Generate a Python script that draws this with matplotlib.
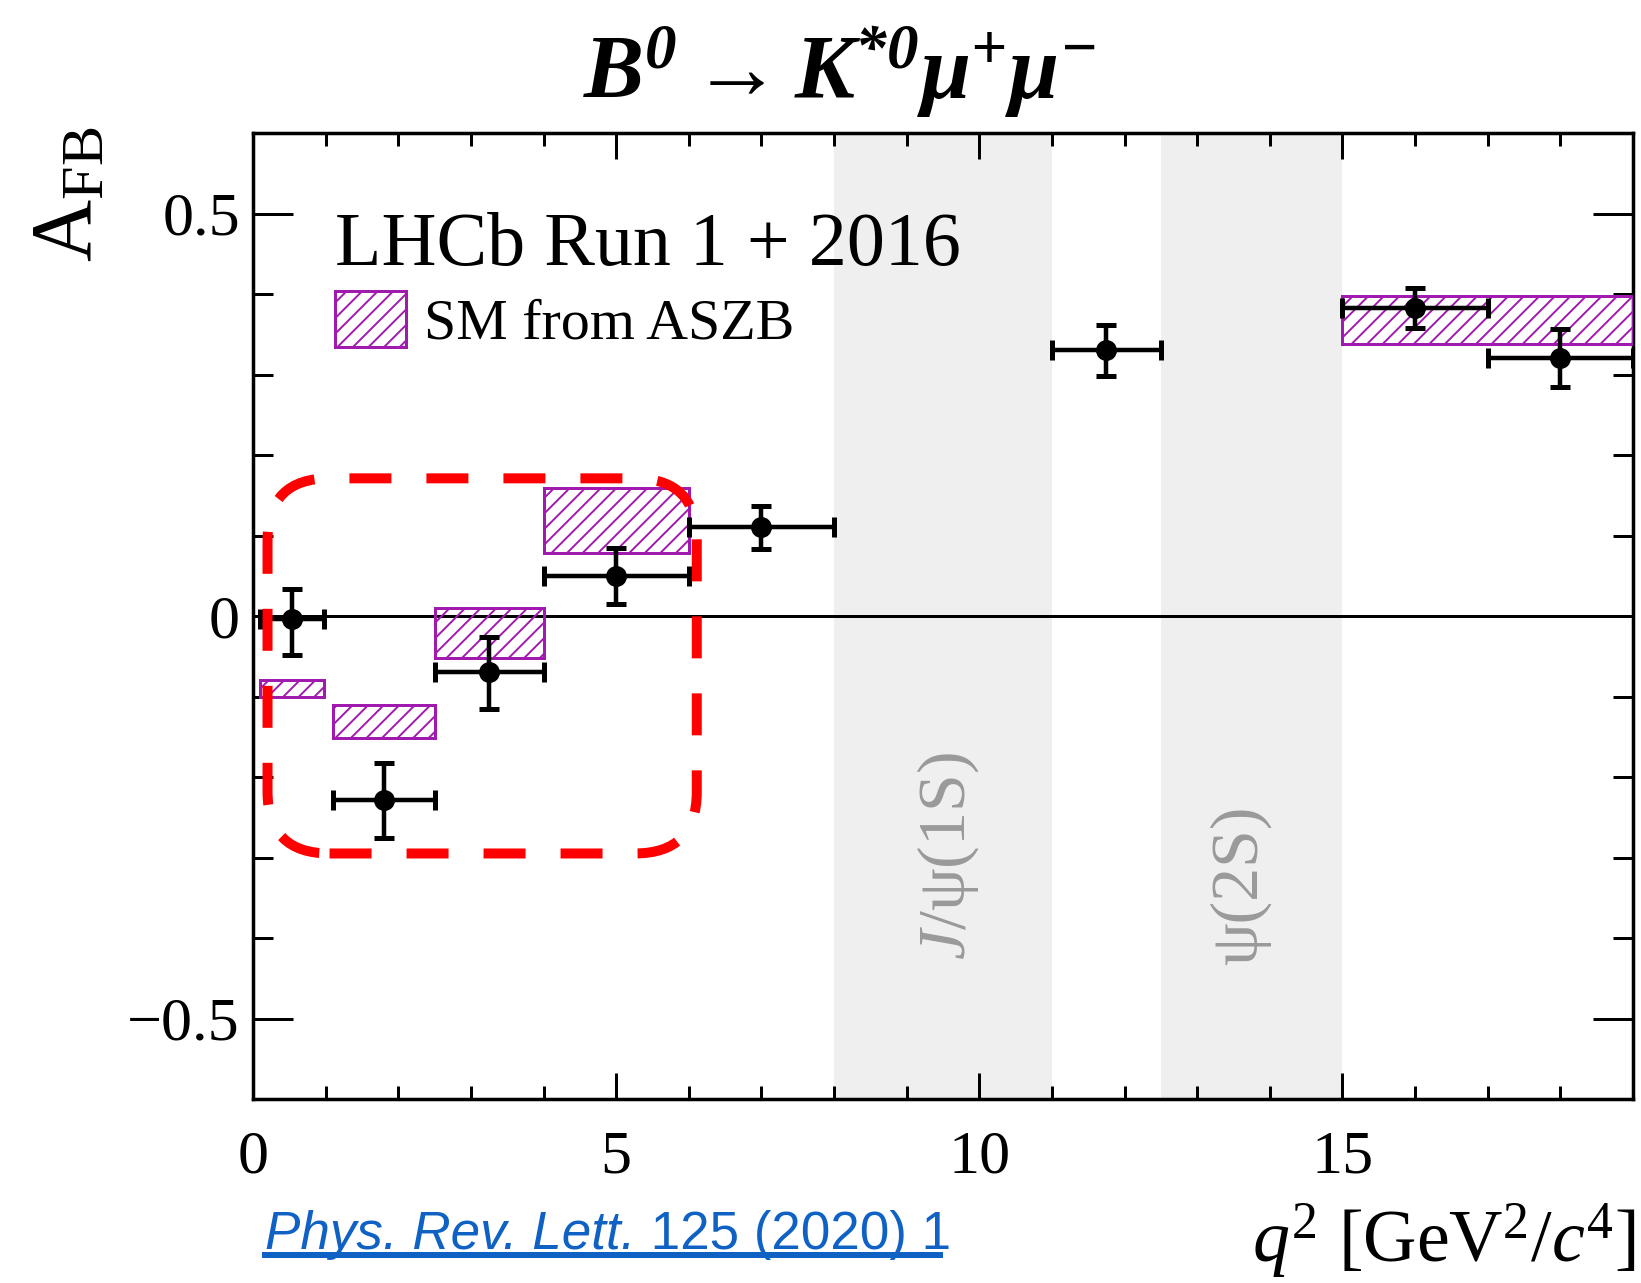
import matplotlib
matplotlib.use("Agg")
import numpy as np
from matplotlib import pyplot as plt
from matplotlib.patches import Patch, FancyBboxPatch
from matplotlib.lines import Line2D
from matplotlib.ticker import MultipleLocator

## Data
q2_lo = [0.10, 1.10, 2.50, 4.00, 6.00, 11.00, 15.00, 17.00]
q2_hi = [0.98, 2.50, 4.00, 6.00, 8.00, 12.50, 17.00, 19.00]
afb = [-0.004, -0.229, -0.070, 0.050, 0.110, 0.330, 0.383, 0.321]
afb_up = [0.038, 0.046, 0.044, 0.034, 0.027, 0.031, 0.025, 0.035]
afb_dn = [0.045, 0.047, 0.045, 0.035, 0.027, 0.032, 0.025, 0.037]

# SM prediction (ASZB) boxes
sm_lo = [0.10, 1.10, 2.50, 4.00, 15.00]
sm_hi = [0.98, 2.50, 4.00, 6.00, 19.00]
sm_min = [-0.101, -0.152, -0.052, 0.078, 0.338]
sm_max = [-0.080, -0.110, 0.010, 0.159, 0.398]

# charmonium vetoes
veto_lo = [8.0, 12.5]
veto_hi = [11.0, 15.0]
veto_names = [r'$J$/ψ(1S)', 'ψ(2S)']
veto_text_x = [9.57, 13.6]
veto_text_y = [-0.298, -0.334]

DPI = 140
W, H = 1641, 1283
PT = 72.0 / DPI  # px -> points

plt.rcParams['font.family'] = ['Liberation Serif', 'DejaVu Serif']
plt.rcParams['mathtext.fontset'] = 'custom'
plt.rcParams['mathtext.rm'] = 'Liberation Serif'
plt.rcParams['mathtext.it'] = 'Liberation Serif:italic'
plt.rcParams['mathtext.bf'] = 'Liberation Serif:bold'
plt.rcParams['mathtext.bfit'] = 'Liberation Serif:italic:bold'
plt.rcParams['hatch.linewidth'] = 1.0

purple = '#a01aae'

fig = plt.figure(figsize=(W / DPI, H / DPI), dpi=DPI)
ax = fig.add_axes([253 / W, 1 - 1099 / H, 1380 / W, 966 / H])

# veto bands
for lo, hi in zip(veto_lo, veto_hi):
    ax.axvspan(lo, hi, color='#efefef', lw=0, zorder=0)
for x, y, name in zip(veto_text_x, veto_text_y, veto_names):
    ax.text(x, y, name, rotation=90, ha='center', va='center',
            fontsize=68 * PT, color='#9a9a9a', zorder=1)

ax.axhline(0, color='black', lw=3 * PT, zorder=2)

# SM boxes
sm_lo = np.array(sm_lo)
sm_hi = np.array(sm_hi)
sm_min = np.array(sm_min)
sm_max = np.array(sm_max)
ax.bar(sm_lo, sm_max - sm_min, width=sm_hi - sm_lo, bottom=sm_min, align='edge',
       facecolor='none', edgecolor=purple, hatch='///', lw=3 * PT, zorder=3)

# data
lo = np.array(q2_lo)
hi = np.array(q2_hi)
xc = (lo + hi) / 2
ax.errorbar(xc, afb, xerr=(hi - lo) / 2, yerr=[afb_dn, afb_up], fmt='o',
            color='black', ms=19 * PT, lw=4.5 * PT, capsize=10 * PT,
            capthick=5 * PT, zorder=5)

# red dashed rounded box (annotation)
rx = 62 / 72.6
ry = 62 / 808.0
box = FancyBboxPatch((0.2, -0.295), 6.11 - 0.2, 0.171 + 0.295,
                     boxstyle='round,pad=0,rounding_size=%f' % rx,
                     mutation_aspect=ry / rx, fill=False, edgecolor='#ff0000',
                     lw=10 * PT, linestyle=(0, (4.2, 3.5)), capstyle='butt',
                     zorder=6, clip_on=False)
ax.add_patch(box)

ax.set_xlim(0, 19)
ax.set_ylim(-0.6, 0.6)
ax.xaxis.set_major_locator(MultipleLocator(5))
ax.xaxis.set_minor_locator(MultipleLocator(1))
ax.yaxis.set_major_locator(MultipleLocator(0.5))
ax.yaxis.set_minor_locator(MultipleLocator(0.1))
ax.set_xticks([0, 5, 10, 15])
ax.set_yticks([-0.5, 0, 0.5])
ax.set_yticklabels(['\u22120.5', '0', '0.5'])

for s in ax.spines.values():
    s.set_linewidth(3.5 * PT)
ax.tick_params(which='both', direction='in', top=True, right=True, width=3 * PT)
ax.tick_params(axis='x', which='major', length=26 * PT, pad=31 * PT, labelsize=62 * PT)
ax.tick_params(axis='x', which='minor', length=13 * PT)
ax.tick_params(axis='y', which='major', length=40 * PT, pad=13 * PT, labelsize=62 * PT)
ax.tick_params(axis='y', which='minor', length=20 * PT)

# LHCb label and legend
ax.text((335 - 253) / 1380, 0.863, 'LHCb Run 1 + 2016',
        transform=ax.transAxes, fontsize=76 * PT, va='baseline', ha='left')
handles = [Patch(facecolor='none', edgecolor=purple, hatch='///', lw=3 * PT)]
ax.legend(handles, ['SM from ASZB'], loc='center left',
          bbox_to_anchor=((335 - 253) / 1380, (1099 - 321) / 966),
          frameon=False, fontsize=58 * PT, handlelength=1.22, handleheight=1.09,
          handletextpad=0.31, borderpad=0, borderaxespad=0)

# axis titles
fig.text(70 / W, 1 - 126 / H, r'$\mathrm{A}_{\mathrm{FB}}$', rotation=90,
         ha='center', va='top', fontsize=86 * PT)
fig.text(1636 / W, 1 - 1262 / H, r'$q^2$ [GeV$^2$/$c^4$]', ha='right',
         va='baseline', fontsize=74 * PT)

# title
fig.text(839 / W, 1 - 99 / H, r'$\mathbfit{B^0 \rightarrow K^{*0}\mu^{+}\mu^{-}}$',
         ha='center', va='baseline', fontsize=90 * PT)

# reference
blue = '#0f62c4'
t1 = fig.text(265 / W, 1 - 1249 / H, 'Phys. Rev. Lett.', color=blue,
              family='Liberation Sans', style='italic',
              fontsize=53 * PT, va='baseline')
ax.annotate(' 125 (2020) 1', xy=(1, 0), xycoords=t1, va='bottom', color=blue,
            family='Liberation Sans', fontsize=53 * PT, annotation_clip=False)
fig.add_artist(Line2D([265 / W, 940 / W], [1 - 1255 / H, 1 - 1255 / H],
                      color=blue, lw=6 * PT, transform=fig.transFigure))

fig.savefig('out.png', dpi=DPI)
